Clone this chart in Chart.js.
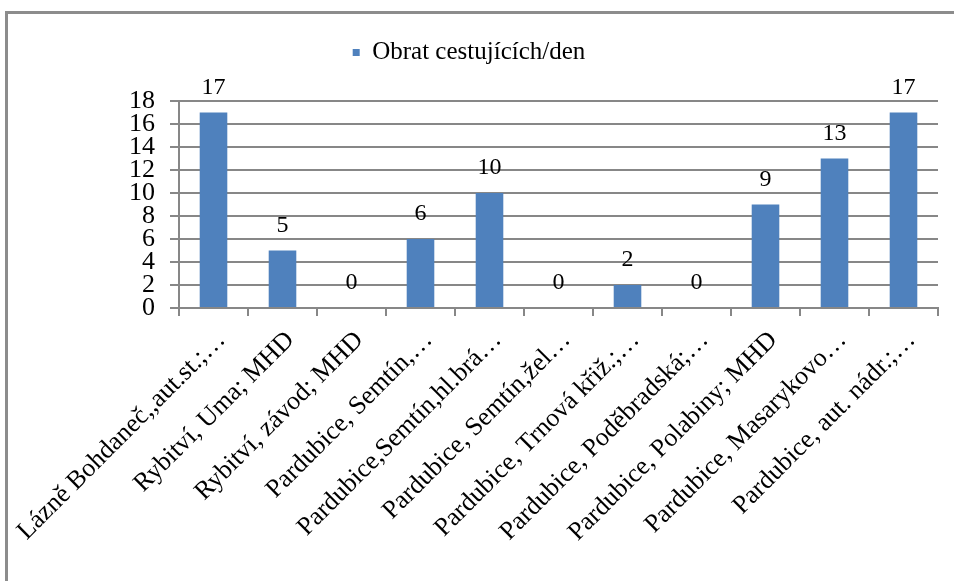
<!DOCTYPE html>
<html>
<head>
<meta charset="utf-8">
<script src="https://cdn.jsdelivr.net/npm/chart.js@4.4.1/dist/chart.umd.min.js"></script>
<style>
  html, body { margin: 0; padding: 0; background: #fff; overflow: hidden; }
</style>
</head>
<body>
<canvas id="chart" width="954" height="581"></canvas>
<script>
// data
const stops = [
  'Lázně Bohdaneč,,aut.st.;…',
  'Rybitví, Uma; MHD',
  'Rybitví, závod; MHD',
  'Pardubice, Semtín,…',
  'Pardubice,Semtín,hl.brá…',
  'Pardubice, Semtín,žel…',
  'Pardubice, Trnová křiž.;…',
  'Pardubice, Poděbradská;…',
  'Pardubice, Polabiny; MHD',
  'Pardubice, Masarykovo…',
  'Pardubice, aut. nádr.;…'
];
const passengers = [17, 5, 0, 6, 10, 0, 2, 0, 9, 13, 17];
const seriesName = 'Obrat cestujících/den';
const yTicks = [0, 2, 4, 6, 8, 10, 12, 14, 16, 18];

const serif = "'Liberation Serif', 'Times New Roman', serif";
const gridGray = '#878787';

// grey frame on the left and top edge, like the pasted chart object
const frame = {
  id: 'frame',
  beforeDraw(chart) {
    const ctx = chart.ctx;
    ctx.save();
    ctx.fillStyle = '#8c8c8c';
    ctx.fillRect(5, 11, 3, chart.height - 11);
    ctx.fillRect(5, 11, chart.width - 5, 3);
    ctx.restore();
  }
};

// value labels above the bars
const barValues = {
  id: 'barValues',
  afterDatasetsDraw(chart) {
    const ctx = chart.ctx;
    const meta = chart.getDatasetMeta(0);
    ctx.save();
    ctx.font = '24px ' + serif;
    ctx.fillStyle = '#000';
    ctx.textAlign = 'center';
    ctx.textBaseline = 'alphabetic';
    meta.data.forEach((bar, i) => {
      ctx.fillText(String(passengers[i]), bar.x, bar.y - 19);
    });
    ctx.restore();
  }
};

new Chart(document.getElementById('chart'), {
  type: 'bar',
  data: {
    labels: stops,
    datasets: [{
      label: seriesName,
      data: passengers,
      backgroundColor: '#4F81BD',
      borderWidth: 0,
      categoryPercentage: 1,
      barPercentage: 0.4
    }]
  },
  options: {
    responsive: false,
    animation: false,
    layout: { padding: { top: 30, left: 0, right: 16, bottom: 0 } },
    plugins: {
      legend: {
        position: 'top',
        labels: {
          boxWidth: 7, boxHeight: 7, padding: 10,
          color: '#000',
          font: { family: serif, size: 25 }
        }
      },
      // empty spacer between legend and plot
      title: {
        display: true, text: '', weight: 500,
        font: { size: 10 }, padding: { top: 7, bottom: 7 }
      },
      tooltip: { enabled: false }
    },
    scales: {
      x: {
        grid: { offset: true, drawOnChartArea: false, drawTicks: true, tickLength: 8, color: gridGray, lineWidth: 2 },
        border: { color: gridGray, width: 2 },
        ticks: {
          autoSkip: false, minRotation: 45, maxRotation: 45,
          color: '#000', font: { family: serif, size: 26 },
          padding: 9, labelOffset: 8
        },
        afterFit(scale) {
          scale.height = 581 - 308;
          scale.paddingLeft = 0;
          scale.paddingRight = 0;
        }
      },
      y: {
        min: 0, max: 18,
        grid: { color: gridGray, tickLength: 9, lineWidth: 2 },
        border: { color: gridGray, width: 2 },
        afterBuildTicks(scale) { scale.ticks = yTicks.map(v => ({ value: v })); },
        ticks: {
          autoSkip: false,
          color: '#000', font: { family: serif, size: 26, lineHeight: 1 },
          padding: 15
        },
        afterFit(scale) { scale.width = 179; }
      }
    }
  },
  plugins: [frame, barValues]
});
</script>
</body>
</html>
